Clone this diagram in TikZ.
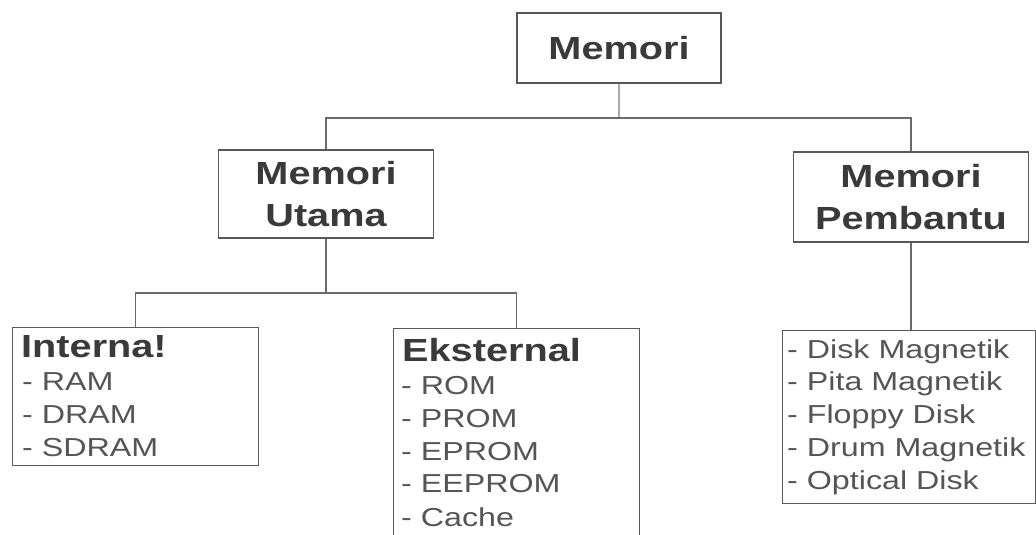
\documentclass[tikz,border=0pt]{standalone}
\usepackage{fontspec}
\setmainfont[FakeStretch=1.24]{Liberation Sans}
\definecolor{boxcol}{HTML}{585858}
\definecolor{linecol}{HTML}{6A6A6A}
\definecolor{faintcol}{HTML}{A8A8A8}
\definecolor{titlecol}{HTML}{3A3A3A}
\definecolor{itemcol}{HTML}{555555}
\newcommand\mytitlefont{\fontsize{32}{42}\selectfont\bfseries}
\newcommand\myitemfont{\fontsize{26}{33}\selectfont}
\tikzset{
  box/.style={draw=boxcol, line width=1.4pt, inner sep=0pt, text=titlecol, font=\mytitlefont},
  ttl/.style={font=\mytitlefont, text=titlecol, inner sep=0pt, anchor=base west},
  itm/.style={font=\myitemfont, text=itemcol, inner sep=0pt, anchor=base west},
  link/.style={draw=linecol, line width=1.3pt},
  faint/.style={draw=faintcol, line width=1.3pt}
}
\begin{document}
\begin{tikzpicture}[x=1pt,y=-1pt]
\useasboundingbox (0,0) rectangle (1036,535);
\clip (0,0) rectangle (1036,535);
\fill[white] (0,0) rectangle (1036,535);

% level 0
\node[box, minimum width=204, minimum height=70] (memori) at (619,48) {Memori};
% level 1
\node[box, minimum width=215, minimum height=88, align=center] (utama) at (326,194) {Memori\\Utama};
\node[box, minimum width=235, minimum height=90, align=center] (pembantu) at (911,197) {Memori\\Pembantu};
% level 2 boxes
\node[box, minimum width=246, minimum height=138, anchor=north west] (internal) at (12,327) {};
\node[box, minimum width=246, minimum height=220, anchor=north west] (eksternal) at (393,328) {};
\node[box, minimum width=253, minimum height=173, anchor=north west] (bantu) at (782,330) {};

% connectors
\coordinate (top) at (619,118);
\coordinate (mid) at (326,293);
\draw[faint] (memori.south) -- (top);
\draw[link] (utama.north) |- (top) -| (pembantu.north);
\draw[link] (utama.south) -- (mid);
\draw[link] (internal.north) |- (mid) -| (eksternal.north);
\draw[link] (pembantu.south) -- (pembantu.south |- bantu.north);

% texts
\node[ttl] (tint) at (21,357) {Interna!};
\node[itm] (i1) at (22,390) {- RAM};
\node[itm] (i2) at (22,423) {- DRAM};
\node[itm] (i3) at (22,456) {- SDRAM};

\node[ttl] (teks) at (402,361) {Eksternal};
\node[itm] (e1) at (401,394) {- ROM};
\node[itm] (e2) at (401,427) {- PROM};
\node[itm] (e3) at (401,460) {- EPROM};
\node[itm] (e4) at (401,492) {- EEPROM};
\node[itm] (e5) at (401,526) {- Cache};

\node[itm] (b1) at (787,358) {- Disk Magnetik};
\node[itm] (b2) at (787,390) {- Pita Magnetik};
\node[itm] (b3) at (787,423) {- Floppy Disk};
\node[itm] (b4) at (787,456) {- Drum Magnetik};
\node[itm] (b5) at (787,489) {- Optical Disk};
\end{tikzpicture}
\end{document}
